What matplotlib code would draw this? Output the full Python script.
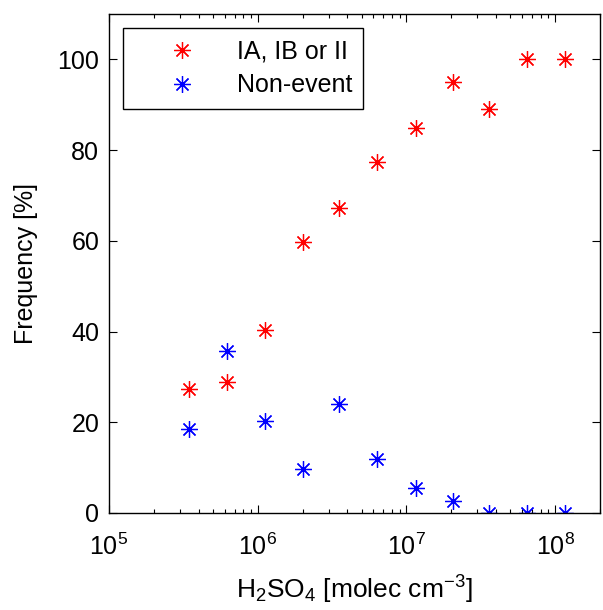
import matplotlib
matplotlib.use("Agg")
import matplotlib.pyplot as plt
from matplotlib.ticker import LogLocator, NullFormatter

plt.rcParams['font.family'] = ['Liberation Sans', 'DejaVu Sans']
plt.rcParams['mathtext.default'] = 'regular'
plt.rcParams['mathtext.fontset'] = 'custom'
plt.rcParams['mathtext.rm'] = 'Liberation Sans'
plt.rcParams['mathtext.it'] = 'Liberation Sans'

h2so4 = [3.46e5, 6.24e5, 1.12e6, 2.01e6, 3.52e6, 6.35e6, 1.15e7, 2.05e7, 3.58e7, 6.5e7, 1.16e8]
event_freq = [27.3, 28.8, 40.3, 59.8, 67.3, 77.4, 84.9, 95.1, 89.1, 100.0, 100.0]
nonevent_freq = [18.5, 35.7, 20.3, 9.7, 24.0, 12.0, 5.6, 2.7, 0.0, 0.0, 0.0]
labels = ['IA, IB or II', 'Non-event']
yticks = [0, 20, 40, 60, 80, 100]

fig = plt.figure(figsize=(6.03, 6.10), dpi=100)
ax = fig.add_axes([109/603, 1-513/610, (600-109)/603, (513-14)/610])

mk = (8, 2, 0)
ax.plot(h2so4, event_freq, linestyle='none', marker=mk, markersize=12,
        markeredgewidth=0.9, color=(1, 0, 0), label=labels[0])
ax.plot(h2so4, nonevent_freq, linestyle='none', marker=mk, markersize=12,
        markeredgewidth=0.9, color=(0, 0, 1), label=labels[1])

ax.set_xscale('log')
ax.set_xlim(1e5, 2e8)
ax.set_ylim(0, 110)
ax.set_yticks(yticks)
ax.xaxis.set_major_locator(LogLocator(base=10, numticks=10))
ax.xaxis.set_minor_locator(LogLocator(base=10, subs=range(2, 10), numticks=20))
ax.xaxis.set_minor_formatter(NullFormatter())
ax.tick_params(axis='both', which='both', direction='in', top=True, right=True,
               labelsize=18, width=0.8)
ax.tick_params(axis='both', which='major', length=6)
ax.tick_params(axis='both', which='minor', length=3)
ax.tick_params(axis='x', which='major', pad=15)
ax.tick_params(axis='y', which='major', pad=7)
for s in ax.spines.values():
    s.set_linewidth(1.0)

ax.set_xlabel('H$_2$SO$_4$ [molec cm$^{-3}$]', fontsize=19, labelpad=10)
ax.set_ylabel('Frequency [%]', fontsize=18, labelpad=14)

leg = ax.legend(loc='upper left', bbox_to_anchor=(123/603, 1-28/610),
                bbox_transform=fig.transFigure, fontsize=18, fancybox=False,
                framealpha=1, edgecolor='black', borderpad=0.45,
                handletextpad=0.3, handlelength=3.8, labelspacing=0.4,
                borderaxespad=0, markerfirst=True)
leg.get_frame().set_linewidth(1.0)

fig.savefig('out.png', dpi=100)
